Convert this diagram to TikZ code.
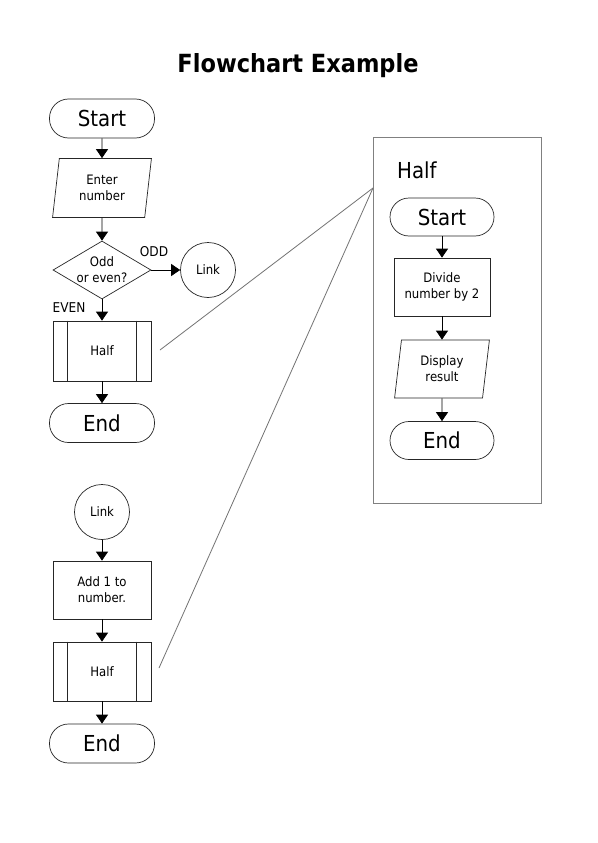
\documentclass[tikz,border=0pt]{standalone}
\usepackage{fontspec}
\setmainfont{DejaVu Sans Condensed}
\usetikzlibrary{arrows.meta,shapes.geometric}
\tikzset{
  shp/.style={draw=black!85, line width=0.7pt, align=center, inner sep=0pt, font=\fontsize{13}{16}\selectfont},
  term/.style={shp, rounded corners=19pt, minimum width=105pt, minimum height=39pt, font=\fontsize{22}{24}\selectfont},
  proc/.style={shp, rectangle, minimum width=98pt, minimum height=58pt},
  subproc/.style={shp, rectangle, minimum width=98pt, minimum height=60pt},
  io/.style={shp, trapezium, trapezium left angle=82, trapezium right angle=98, trapezium stretches=true, minimum width=99pt, minimum height=59pt},
  dec/.style={shp, diamond, shape aspect=1.7, minimum width=98pt, minimum height=58pt, inner sep=-6pt},
  conn/.style={shp, circle, minimum size=55pt},
  arr/.style={draw=black, line width=0.8pt, -{Triangle[width=12pt,length=9pt]}},
  link/.style={draw=black!55, line width=0.8pt},
  lbl/.style={font=\fontsize{13.5}{15}\selectfont, inner sep=0pt}
}
\begin{document}
\begin{tikzpicture}[x=1pt,y=-1pt]
\useasboundingbox[fill=white] (0,0) rectangle (597,843);
% title
\node[font=\bfseries\fontsize{25}{28}\selectfont] (title) at (298,66) {Flowchart Example};
% main flow
\node[term] (s1) at (102,118.5) {Start};
\node[io] (in1) at (102,188) {Enter\\number};
\node[dec] (d1) at (102,270) {Odd\\or even?};
\node[conn] (l1) at (208,270) {Link};
\node[subproc] (h1) at (102,351) {Half};
\node[term] (e1) at (102,423) {End};
\node[lbl] (odd) at (154,252) {ODD};
\node[lbl] (even) at (69,308) {EVEN};
\draw[shp] ([xshift=15pt]h1.north west) -- ([xshift=15pt]h1.south west);
\draw[shp] ([xshift=-15pt]h1.north east) -- ([xshift=-15pt]h1.south east);
\draw[arr] (s1) -- (in1);
\draw[arr] (in1) -- (d1);
\draw[arr] (d1.east) -- (l1.west);
\draw[arr] (d1.south) -- (h1.north);
\draw[arr] (h1) -- (e1);
% Half subroutine box
\node[draw=black!50, line width=0.8pt, minimum width=168pt, minimum height=366pt, inner sep=0pt] (box) at (457,320) {};
\node[font=\fontsize{22}{24}\selectfont, anchor=west, inner sep=0pt] (hl) at (397,170) {Half};
\node[term, minimum width=104pt, minimum height=38pt] (s2) at (442,217) {Start};
\node[proc, minimum width=96pt] (p2) at (442,287) {Divide\\number by 2};
\node[io, minimum width=95pt, minimum height=58pt] (o2) at (442,369) {Display\\result};
\node[term, minimum width=104pt, minimum height=38pt] (e2) at (442,440.5) {End};
\draw[arr] (s2) -- (p2);
\draw[arr] (p2) -- (o2);
\draw[arr] (o2) -- (e2);
% second flow
\node[conn] (l2) at (102,512) {Link};
\node[proc] (p3) at (102,590) {Add 1 to\\number.};
\node[subproc, minimum height=59pt] (h3) at (102,671.5) {Half};
\node[term] (e3) at (102,743.5) {End};
\draw[shp] ([xshift=15pt]h3.north west) -- ([xshift=15pt]h3.south west);
\draw[shp] ([xshift=-15pt]h3.north east) -- ([xshift=-15pt]h3.south east);
\draw[arr] (l2) -- (p3);
\draw[arr] (p3) -- (h3);
\draw[arr] (h3) -- (e3);
% links to subroutine
\coordinate (c1) at (160,350);
\coordinate (c3) at (159,668);
\coordinate (bp) at (373,188);
\draw[link] (c1) -- (bp);
\draw[link] (c3) -- (bp);
\end{tikzpicture}
\end{document}
